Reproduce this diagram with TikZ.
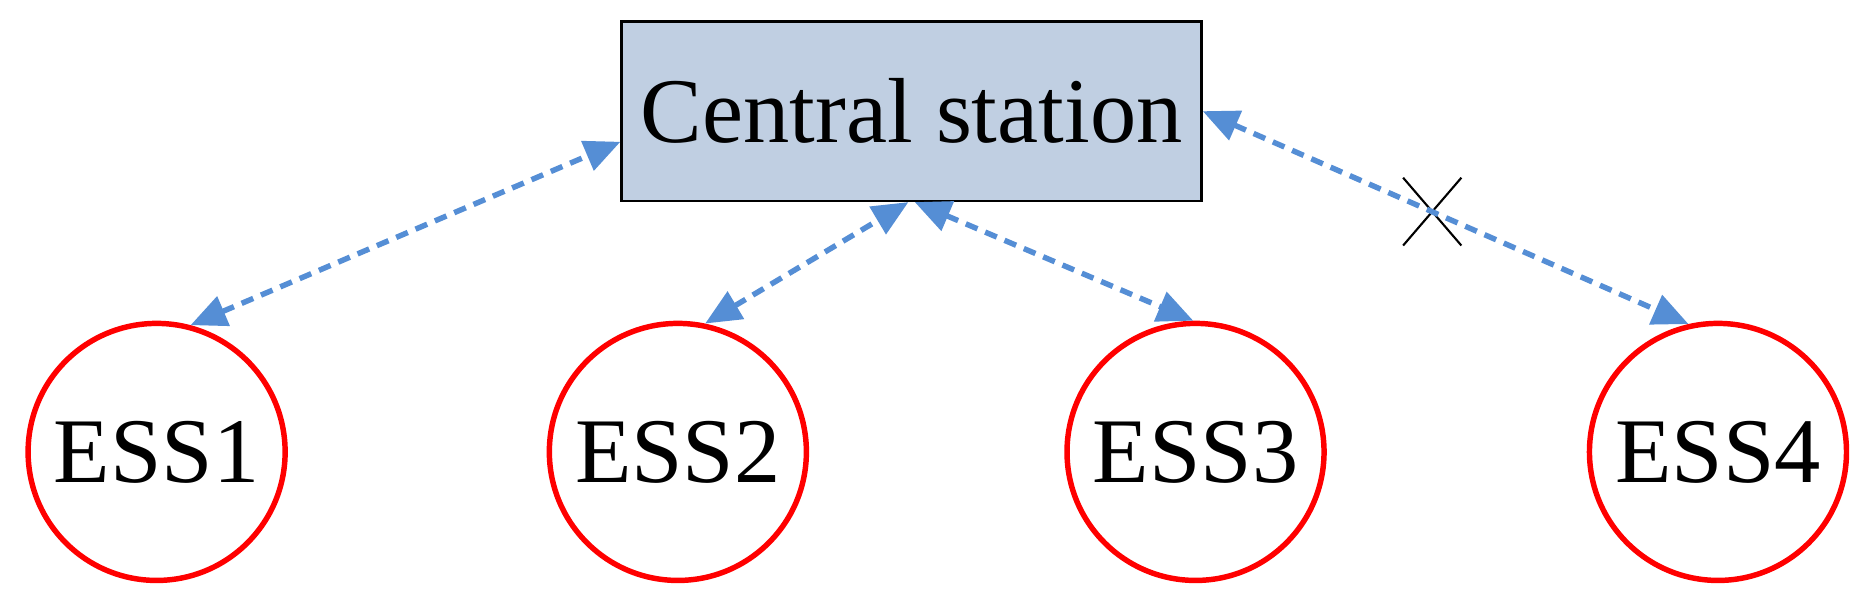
\documentclass[tikz,border=0pt]{standalone}
\usepackage{fontspec}
\setmainfont{Liberation Serif}
\usetikzlibrary{positioning, arrows.meta, shapes.misc}

\definecolor{boxblue}{RGB}{192,207,226}
\definecolor{linkblue}{RGB}{85,142,213}

\tikzset{
	ess/.style={circle, draw=red, line width=1.3pt, minimum size=2.15cm, inner sep=0pt, font=\rmfamily\fontsize{22}{22}\selectfont},
	station/.style={rectangle, draw=black, line width=0.6pt, fill=boxblue, minimum width=4.85cm, minimum height=1.5cm, inner sep=1pt, font=\rmfamily\fontsize{22}{22}\selectfont},
	link/.style={draw=linkblue, line width=1.3pt, dash pattern=on 3pt off 2pt, {Triangle[length=0.3cm, width=0.26cm, fill=linkblue]}-{Triangle[length=0.3cm, width=0.26cm, fill=linkblue]}}
}

\begin{document}
\begin{tikzpicture}
		\useasboundingbox (0,0) rectangle (15.6,5.1);
		\node[station] (cs) at (7.625,4.17) {Central station};
		\node[ess] (e1) at (1.31,1.32) {ESS1};
		\node[ess] (e2) at (5.67,1.32) {ESS2};
		\node[ess] (e3) at (10.00,1.32) {ESS3};
		\node[ess] (e4) at (14.37,1.32) {ESS4};
		\node[cross out, draw=black, line width=0.5pt, minimum width=0.47cm, minimum height=0.55cm, inner sep=0pt] (cut) at (11.98,3.33) {};

		\draw[link] (e1.75) -- (cs.186);
		\draw[link] (e2.78) -- (cs.268);
		\draw[link] (cs.272) -- (e3.91);
		\draw[link] (cs.east) -- (e4.103);
	\end{tikzpicture}
\end{document}
